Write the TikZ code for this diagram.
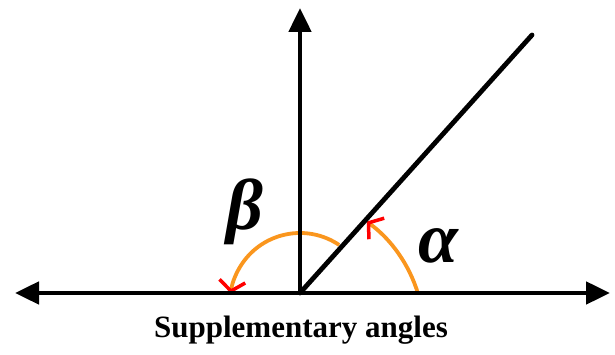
\documentclass[tikz,border=0pt]{standalone}
\usepackage{fontspec}
\setmainfont{Liberation Serif}
\usetikzlibrary{arrows.meta}
\definecolor{arcorange}{RGB}{250,150,30}
\tikzset{
  ray/.style={line width=4.8pt, -{Triangle[length=24pt,width=22pt]}},
  angarc/.style={line width=3.8pt, draw=arcorange,
                 -{Straight Barb[color=red,line width=3.5pt,length=10pt,width=26pt]}},
  anglabel/.style={font=\fontsize{72}{72}\selectfont\bfseries\itshape},
  caption/.style={font=\fontsize{31}{31}\selectfont\bfseries}
}
\begin{document}
\begin{tikzpicture}[x=1pt, y=1pt]
\useasboundingbox (0,0) rectangle (615,355);
\coordinate (O) at (300,62);
\coordinate (W) at (15,62);
\coordinate (E) at (610,62);
\coordinate (N) at (300,347);
\coordinate (D) at (532,320);
% angle arcs
\draw[angarc] (285,21) ++(17:139) arc[start angle=17, end angle=54, radius=139];
\draw[angarc] (300,52) ++(56:70) arc[start angle=56, end angle=172, radius=70];
% lines
\foreach \tip in {W,E,N}
  \draw[ray] (O) -- (\tip);
\draw[line width=4.8pt, line cap=round] (O) -- (D);
\node[anglabel] (beta) at (245,143) {β};
\node[anglabel] (alpha) at (438,109) {α};
\node[caption] (cap) at (301,25) {Supplementary angles};
\end{tikzpicture}
\end{document}
